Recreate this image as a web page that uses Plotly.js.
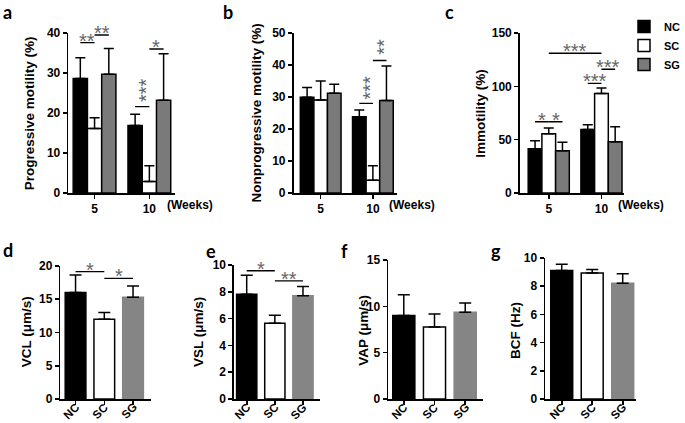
<!DOCTYPE html>
<html><head><meta charset="utf-8">
<script src="https://cdn.plot.ly/plotly-3.0.1.min.js"></script>
<style>html,body{margin:0;padding:0;background:#fff}#chart{width:685px;height:423px}</style>
</head><body><div id="chart"></div>
<script>
// ---------- data ----------
const groups = ['NC', 'SC', 'SG'];
const weeks = ['5', '10'];

// a: Progressive motility (%)
const progNC = [28.6, 16.9], progNCerr = [5.2, 2.8];
const progSC = [16.1, 2.9],  progSCerr = [2.7, 3.9];
const progSG = [29.7, 23.2], progSGerr = [6.4, 11.6];
// b: Nonprogressive motility (%)
const nonNC = [29.9, 23.8], nonNCerr = [3.1, 2.1];
const nonSC = [29.1, 4.0],  nonSCerr = [5.9, 4.5];
const nonSG = [31.2, 28.9], nonSGerr = [2.8, 10.8];
// c: Immotility (%)
const immNC = [41.5, 59.5], immNCerr = [7.5, 4.5];
const immSC = [55.5, 93.3], immSCerr = [5.5, 5.2];
const immSG = [39.5, 48.0], immSGerr = [8.0, 14.0];
// d-g
const vcl = [16.0, 12.0, 15.3], vclErr = [2.65, 1.0, 1.7];
const vsl = [7.82, 5.65, 7.7],  vslErr = [1.42, 0.6, 0.7];
const vap = [9.0, 7.76, 9.36],  vapErr = [2.25, 1.42, 1.0];
const bcf = [9.12, 8.93, 8.21], bcfErr = [0.43, 0.26, 0.67];

// significance: horizontal [panel, weekA, groupA, weekB, groupB, level, label]
const sigTop = [
  [1, 0, 0, 0, 1, 37.6, '**'],
  [1, 0, 1, 0, 2, 39.5, '**'],
  [1, 1, 1, 1, 2, 36.0, '*'],
  [3, 0, 0, 0, 1, 66.8, '*'],
  [3, 0, 1, 0, 2, 66.8, '*'],
  [3, 0, 1, 1, 1, 131, '***'],
  [3, 1, 0, 1, 1, 102.8, '***'],
  [3, 1, 1, 1, 2, 116, '***']
];
// vertical stars [panel, weekA, groupA, weekB, groupB, level, starCenter, label]
const sigTopVert = [
  [1, 1, 0, 1, 1, 21.6, 25.8, '***'],
  [2, 1, 0, 1, 1, 28.0, 33.0, '***'],
  [2, 1, 1, 1, 2, 41.4, 45.6, '**']
];
// bottom [panel, groupA, groupB, level, label]
const sigBottom = [
  [4, 0, 1, 19.15, '*'],
  [4, 1, 2, 18.15, '*'],
  [5, 0, 1, 9.57, '*'],
  [5, 1, 2, 8.81, '**']
];

// ---------- layout helpers ----------
const W = 685, H = 423;
const px = v => v / W, py = v => 1 - v / H;
const BARGAP = 0.22;
const BW = (1 - BARGAP) / 3;
const FONT = 'Liberation Sans, Arial, sans-serif';
const zeros = n => new Array(n).fill(0);

const colTop = {NC: '#000000', SC: '#ffffff', SG: '#7a7a7a'};

const traces = [];
function topTrace(n, name, y, err, legend) {
  traces.push({
    type: 'bar', x: weeks, y: y, name: name,
    xaxis: 'x' + n, yaxis: 'y' + n,
    marker: {color: colTop[name], line: {color: '#000', width: 1.5}},
    error_y: {type: 'data', symmetric: false, array: err, arrayminus: zeros(err.length),
              color: '#000', thickness: 1.5, width: 5},
    showlegend: legend, hoverinfo: 'skip'
  });
}
topTrace('', 'NC', progNC, progNCerr, true);
topTrace('', 'SC', progSC, progSCerr, true);
topTrace('', 'SG', progSG, progSGerr, true);
topTrace('2', 'NC', nonNC, nonNCerr, false);
topTrace('2', 'SC', nonSC, nonSCerr, false);
topTrace('2', 'SG', nonSG, nonSGerr, false);
topTrace('3', 'NC', immNC, immNCerr, false);
topTrace('3', 'SC', immSC, immSCerr, false);
topTrace('3', 'SG', immSG, immSGerr, false);

function bottomTrace(n, y, err) {
  traces.push({
    type: 'bar', x: groups, y: y, width: 0.72,
    xaxis: 'x' + n, yaxis: 'y' + n,
    marker: {color: ['#000000', '#ffffff', '#858585'],
             line: {color: ['#000000', '#000000', '#858585'], width: 1.5}},
    error_y: {type: 'data', symmetric: false, array: err, arrayminus: zeros(err.length),
              color: '#000', thickness: 1.5, width: 6},
    showlegend: false, hoverinfo: 'skip'
  });
}
bottomTrace('4', vcl, vclErr);
bottomTrace('5', vsl, vslErr);
bottomTrace('6', vap, vapErr);
bottomTrace('7', bcf, bcfErr);

const tickfont = {family: FONT, size: 12, weight: 'bold', color: '#000'};
function baseAx(extra) {
  return Object.assign({
    showline: true, linecolor: '#000', linewidth: 1.6,
    ticks: 'outside', ticklen: 4, tickwidth: 1.6, tickcolor: '#000',
    showgrid: false, zeroline: false, tickfont: tickfont, fixedrange: true
  }, extra);
}
function xAx(l, r, range, anchor, extra) {
  return baseAx(Object.assign({domain: [px(l), px(r)], range: range, anchor: anchor, type: 'category'}, extra || {}));
}
function yAx(bottom, top, range, dtick, anchor) {
  return baseAx({domain: [py(bottom), py(top)], range: range, dtick: dtick, tick0: 0, anchor: anchor});
}
const rot = {showticklabels: false};

const layout = {
  width: W, height: H, margin: {l: 0, r: 0, t: 0, b: 0},
  paper_bgcolor: '#fff', plot_bgcolor: 'rgba(0,0,0,0)',
  barmode: 'group', bargap: BARGAP, bargroupgap: 0,
  font: {family: FONT, color: '#000'},
  showlegend: true,
  legend: {x: px(640), xanchor: 'left', y: py(12), yanchor: 'top', bgcolor: 'rgba(0,0,0,0)',
           font: {family: FONT, size: 11, weight: 'bold', color: '#000'},
           itemwidth: 30, tracegroupgap: 0, traceorder: 'normal'},
  xaxis:  xAx(70, 179, [-0.48, 1.46], 'y'),
  yaxis:  yAx(193, 33, [0, 40], 10, 'x'),
  xaxis2: xAx(301, 407, [-0.52, 1.46], 'y2'),
  yaxis2: yAx(193, 33, [0, 50], 10, 'x2'),
  xaxis3: xAx(533, 640, [-0.55, 1.43], 'y3'),
  yaxis3: yAx(193, 33, [0, 150], 50, 'x3'),
  xaxis4: xAx(62, 155, [-0.525, 2.63], 'y4', rot),
  yaxis4: yAx(399, 266, [0, 20], 5, 'x4'),
  xaxis5: xAx(240, 328, [-0.45, 2.6], 'y5', rot),
  yaxis5: yAx(399, 265, [0, 10], 2, 'x5'),
  xaxis6: xAx(398, 495, [-0.51, 2.57], 'y6', rot),
  yaxis6: yAx(399, 260, [0, 15], 5, 'x6'),
  xaxis7: xAx(559, 652, [-0.544, 2.43], 'y7', rot),
  yaxis7: yAx(399, 258, [0, 10], 2, 'x7'),
  shapes: [], annotations: []
};

const axName = p => p === 1 ? '' : String(p);
const starFont = {family: FONT, size: 20, color: '#666'};
// compact star box: glyph sits in the upper part of the line box
const starBox = {height: 13, valign: 'top', borderpad: 0, yanchor: 'bottom', yshift: -1};

function hline(p, x0, x1, y) {
  layout.shapes.push({type: 'line', xref: 'x' + axName(p), yref: 'y' + axName(p),
    x0: x0, x1: x1, y0: y, y1: y, line: {color: '#000', width: 1.3}});
}
sigTop.forEach(([p, wa, ga, wb, gb, lev, lab]) => {
  const x0 = wa + (ga - 1) * BW, x1 = wb + (gb - 1) * BW;
  hline(p, x0, x1, lev);
  layout.annotations.push(Object.assign({xref: 'x' + axName(p), yref: 'y' + axName(p), x: (x0 + x1) / 2, y: lev,
    text: lab, showarrow: false, font: starFont}, starBox));
});
sigTopVert.forEach(([p, wa, ga, wb, gb, lev, sc, lab]) => {
  const x0 = wa + (ga - 1) * BW, x1 = wb + (gb - 1) * BW;
  hline(p, x0, x1, lev);
  layout.annotations.push({xref: 'x' + axName(p), yref: 'y' + axName(p), x: (x0 + x1) / 2, y: sc,
    text: lab, showarrow: false, font: starFont, textangle: -90, xshift: 4, borderpad: 0});
});
sigBottom.forEach(([p, ga, gb, lev, lab]) => {
  hline(p, ga, gb, lev);
  layout.annotations.push(Object.assign({xref: 'x' + p, yref: 'y' + p, x: (ga + gb) / 2, y: lev,
    text: lab, showarrow: false, font: starFont}, starBox));
});

// rotated group labels under bottom panels (tick labels)
['4', '5', '6', '7'].forEach(n => {
  groups.forEach(g => {
    layout.annotations.push({xref: 'x' + n, yref: 'paper', x: g, y: py(411), text: g, textangle: -45,
      showarrow: false, xanchor: 'center', yanchor: 'middle', xshift: -4,
      font: {family: FONT, size: 11.5, weight: 'bold', color: '#000'}});
  });
});

// "(Weeks)" labels
['', '2', '3'].forEach(n => {
  layout.annotations.push({xref: 'x' + n, yref: 'paper', x: 1.28, y: py(205), xanchor: 'left', yanchor: 'middle',
    text: '(Weeks)', showarrow: false, font: tickfont});
});

// axis titles
const titleFont = {family: FONT, size: 13.5, weight: 'bold', color: '#000'};
[
  ['Progressive motility (%)', 30, 113],
  ['Nonprogressive motility (%)', 263, 113],
  ['Immotility (%)', 492, 113],
  ['VCL (μm/s)', 27, 332],
  ['VSL (μm/s)', 203, 332],
  ['VAP (μm/s)', 372, 330],
  ['BCF (Hz)', 528, 330]
].forEach(([t, x, y]) => {
  layout.annotations.push({xref: 'paper', yref: 'paper', x: px(x), y: py(y), text: t, textangle: -90,
    showarrow: false, font: titleFont, xanchor: 'center', yanchor: 'middle'});
});

// panel letters
const letterFont = {family: 'Lato, Open Sans, sans-serif', size: 18, weight: 'bold', color: '#000'};
[['a', 8, 0, 'top'], ['b', 234, 0, 'top'], ['c', 461, 0, 'top'],
 ['d', 8, 250, 'middle'], ['e', 216, 251, 'middle'], ['f', 353, 251, 'middle'], ['g', 509, 251, 'middle']]
.forEach(([t, x, y, ya]) => {
  layout.annotations.push({xref: 'paper', yref: 'paper', x: px(x), y: py(y), text: t,
    showarrow: false, font: letterFont, xanchor: 'center', yanchor: ya, borderpad: 0});
});

Plotly.newPlot('chart', traces, layout, {staticPlot: true, displayModeBar: false});
</script>
</body></html>
